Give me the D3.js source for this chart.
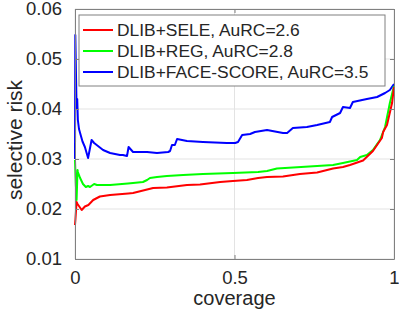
<!DOCTYPE html>
<html>
<head>
<meta charset="utf-8">
<script src="https://cdn.jsdelivr.net/npm/d3@7"></script>
<style>
  body { margin: 0; background: #fff; }
  svg { display: block; font-family: "Liberation Sans", Arial, sans-serif; }
</style>
</head>
<body>
<div id="chart"></div>
<script>
// values
var xTicks = [0, 0.5, 1];
var yTicks = [0.01, 0.02, 0.03, 0.04, 0.05, 0.06];
var xTickLabels = ['0', '0.5', '1'];
var yTickLabels = ['0.01', '0.02', '0.03', '0.04', '0.05', '0.06'];

var seriesNames = ['DLIB+SELE, AuRC=2.6', 'DLIB+REG, AuRC=2.8', 'DLIB+FACE-SCORE, AuRC=3.5'];
var seriesColors = ['#ff0000', '#00ff00', '#0000ff'];

var seleCoverage = [0, 0.0015, 0.005, 0.008, 0.021, 0.031, 0.042, 0.057, 0.078, 0.11, 0.167, 0.182, 0.245,
  0.288, 0.351, 0.392, 0.455, 0.495, 0.539, 0.574, 0.602, 0.652, 0.705, 0.759, 0.809, 0.84, 0.862, 0.903,
  0.934, 0.962, 0.966, 0.978, 0.994, 1.0];
var seleRisk = [0.0168, 0.0180, 0.0214, 0.0210, 0.0198, 0.0205, 0.0208, 0.0218, 0.0225, 0.0228, 0.0231, 0.0232,
  0.0242, 0.0243, 0.0248, 0.0249, 0.0254, 0.0256, 0.0258, 0.0262, 0.0264, 0.0265, 0.0270, 0.0273, 0.0281,
  0.0284, 0.0288, 0.0297, 0.0316, 0.0342, 0.0354, 0.0368, 0.0412, 0.0444];

var regCoverage = [0, 0.0025, 0.005, 0.008, 0.009, 0.016, 0.025, 0.034, 0.041, 0.047, 0.06, 0.069, 0.11, 0.166,
  0.182, 0.213, 0.226, 0.235, 0.257, 0.288, 0.339, 0.401, 0.495, 0.574, 0.602, 0.633, 0.759, 0.809, 0.84,
  0.884, 0.894, 0.915, 0.934, 0.956, 0.972, 0.987, 1.0];
var regRisk = [0.0298, 0.0250, 0.0218, 0.0278, 0.0274, 0.0262, 0.0250, 0.0244, 0.0246, 0.0244, 0.0250, 0.0248,
  0.0248, 0.0251, 0.0252, 0.0254, 0.0258, 0.0262, 0.0264, 0.0266, 0.0268, 0.0270, 0.0272, 0.0274, 0.0276,
  0.0281, 0.0286, 0.0288, 0.0292, 0.0298, 0.0304, 0.0308, 0.0318, 0.0338, 0.0364, 0.0412, 0.0446];

var faceCoverage = [0, 0.001, 0.005, 0.007, 0.009, 0.0125, 0.016, 0.0235, 0.031, 0.041, 0.052, 0.06, 0.068,
  0.088, 0.11, 0.141, 0.15, 0.163, 0.168, 0.182, 0.226, 0.257, 0.292, 0.298, 0.304, 0.313, 0.32, 0.351,
  0.401, 0.476, 0.502, 0.511, 0.524, 0.549, 0.564, 0.602, 0.652, 0.665, 0.683, 0.727, 0.759, 0.799, 0.806,
  0.831, 0.84, 0.862, 0.871, 0.915, 0.947, 0.972, 0.987, 1.0];
var faceRisk = [0.0300, 0.0548, 0.0400, 0.0420, 0.0378, 0.0360, 0.0352, 0.0335, 0.0324, 0.0302, 0.0338, 0.0332,
  0.0328, 0.0318, 0.0312, 0.0308, 0.0308, 0.0306, 0.0324, 0.0314, 0.0314, 0.0312, 0.0314, 0.0316, 0.0328,
  0.0328, 0.0340, 0.0336, 0.0334, 0.0332, 0.0332, 0.0334, 0.0348, 0.0350, 0.0354, 0.0358, 0.0352, 0.0352,
  0.0362, 0.0364, 0.0368, 0.0374, 0.0384, 0.0392, 0.0404, 0.0402, 0.0414, 0.0420, 0.0424, 0.0432, 0.0438,
  0.0450];

// draw order: blue under green under red
var series = [
  { name: seriesNames[2], color: seriesColors[2], cov: faceCoverage, risk: faceRisk },
  { name: seriesNames[1], color: seriesColors[1], cov: regCoverage, risk: regRisk },
  { name: seriesNames[0], color: seriesColors[0], cov: seleCoverage, risk: seleRisk }
];

var W = 399, H = 314;
var margin = { top: 9, right: 5, bottom: 55, left: 75 };
var width = W - margin.left - margin.right;
var height = H - margin.top - margin.bottom;

var svg = d3.select('#chart').append('svg')
  .attr('width', W)
  .attr('height', H);

var g = svg.append('g')
  .attr('transform', 'translate(' + margin.left + ',' + margin.top + ')');

var x = d3.scaleLinear().domain([0, 1]).range([0, width]);
var y = d3.scaleLinear().domain([0.01, 0.06]).range([height, 0]);

var axisColor = '#262626';

// grid
g.append('g').selectAll('line')
  .data(xTicks).enter().append('line')
  .attr('x1', function(d) { return x(d); })
  .attr('x2', function(d) { return x(d); })
  .attr('y1', 0).attr('y2', height)
  .attr('stroke', '#e3e3e3').attr('stroke-width', 1);
g.append('g').selectAll('line')
  .data(yTicks).enter().append('line')
  .attr('y1', function(d) { return y(d); })
  .attr('y2', function(d) { return y(d); })
  .attr('x1', 0).attr('x2', width)
  .attr('stroke', '#e3e3e3').attr('stroke-width', 1);

// curves
var line = d3.line()
  .x(function(d) { return x(d[0]); })
  .y(function(d) { return y(d[1]); });

series.forEach(function(s) {
  var pts = s.cov.map(function(c, i) { return [c, s.risk[i]]; });
  g.append('path')
    .datum(pts)
    .attr('fill', 'none')
    .attr('stroke', s.color)
    .attr('stroke-width', 2)
    .attr('stroke-linejoin', 'round')
    .attr('d', line);
});

// axes (ticks inside, MATLAB style)
var fmtX = function(d, i) { return xTickLabels[i]; };
var fmtY = function(d, i) { return yTickLabels[i]; };

g.append('g')
  .attr('transform', 'translate(0,' + height + ')')
  .call(d3.axisBottom(x).tickValues(xTicks).tickFormat(fmtX).tickSizeInner(-4).tickSizeOuter(0).tickPadding(12));
g.append('g')
  .call(d3.axisLeft(y).tickValues(yTicks).tickFormat(fmtY).tickSizeInner(-4).tickSizeOuter(0).tickPadding(13));
g.append('g')
  .call(d3.axisTop(x).tickValues(xTicks).tickFormat('').tickSizeInner(-4).tickSizeOuter(0));
g.append('g')
  .attr('transform', 'translate(' + width + ',0)')
  .call(d3.axisRight(y).tickValues(yTicks).tickFormat('').tickSizeInner(-4).tickSizeOuter(0));

g.selectAll('.domain').attr('stroke', '#808080');
g.selectAll('.tick line').attr('stroke', '#808080');
g.selectAll('.tick text').attr('fill', axisColor).style('font-size', '18.5px');
g.selectAll('g').attr('font-family', null);

// axis labels
svg.append('text')
  .attr('x', margin.left + x(0.5))
  .attr('y', 305)
  .attr('text-anchor', 'middle')
  .attr('fill', axisColor)
  .style('font-size', '20px')
  .text('coverage');
svg.append('text')
  .attr('transform', 'translate(22,140) rotate(-90)')
  .attr('text-anchor', 'middle')
  .attr('fill', axisColor)
  .style('font-size', '21px')
  .text('selective risk');

// legend
var legend = g.append('g').attr('transform', 'translate(4,6)');
legend.append('rect')
  .attr('width', 306).attr('height', 71)
  .attr('fill', '#fff')
  .attr('stroke', '#808080').attr('stroke-width', 1);
seriesNames.forEach(function(name, i) {
  var cy = 15 + i * 21;
  legend.append('line')
    .attr('x1', 4).attr('x2', 34)
    .attr('y1', cy).attr('y2', cy)
    .attr('stroke', seriesColors[i]).attr('stroke-width', 2);
  legend.append('text')
    .attr('x', 38).attr('y', cy)
    .attr('dy', '0.36em')
    .attr('fill', axisColor)
    .style('font-size', '17.4px')
    .text(name);
});
</script>
</body>
</html>
